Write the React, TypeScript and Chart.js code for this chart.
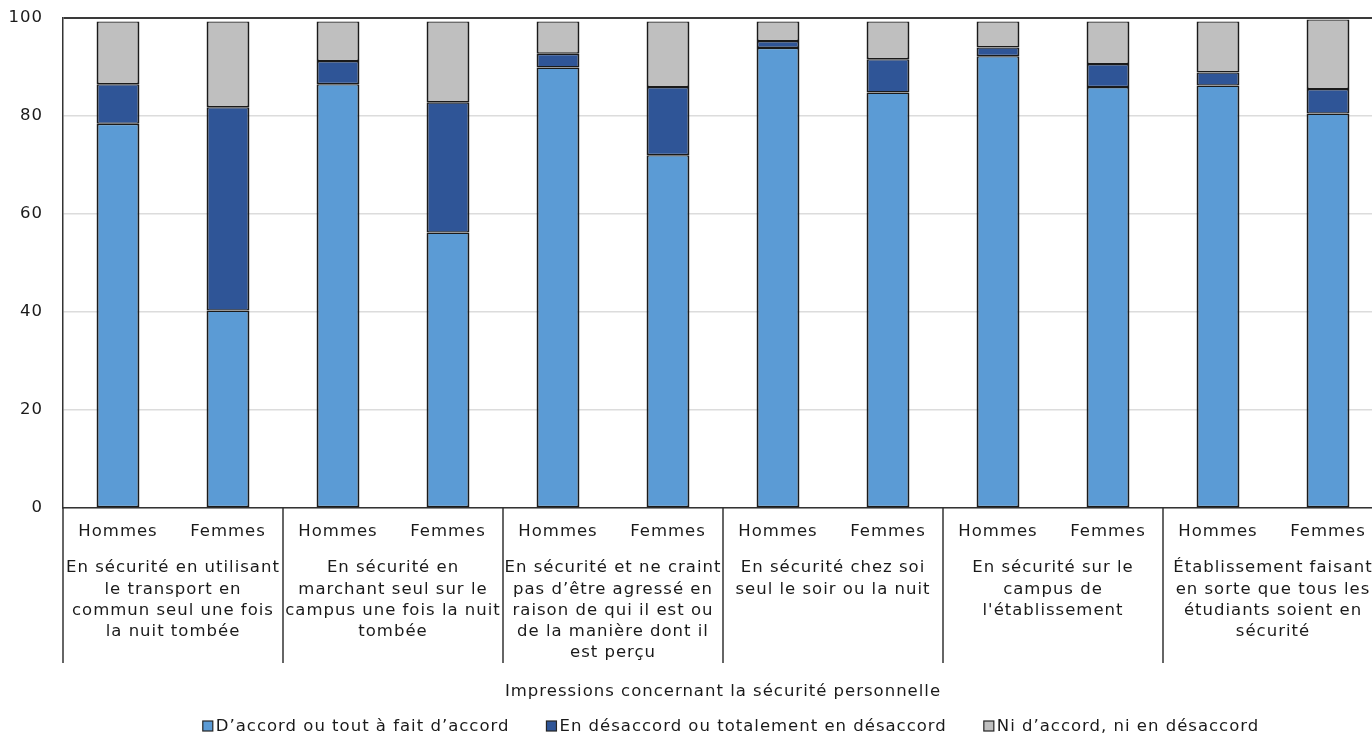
import React, { useEffect, useRef } from "react";
import { Chart, registerables } from "chart.js";

Chart.register(...registerables);

// Sub-categories along the bottom axis (two per group)
const genders = [
  "Hommes", "Femmes",
  "Hommes", "Femmes",
  "Hommes", "Femmes",
  "Hommes", "Femmes",
  "Hommes", "Femmes",
  "Hommes", "Femmes",
];

// Group captions, one line per entry
const groupLabels: string[][] = [
  ["En sécurité en utilisant", "le transport en", "commun seul une fois", "la nuit tombée"],
  ["En sécurité en", "marchant seul sur le", "campus une fois la nuit", "tombée"],
  ["En sécurité et ne craint", "pas d’être agressé en", "raison de qui il est ou", "de la manière dont il", "est perçu"],
  ["En sécurité chez soi", "seul le soir ou la nuit"],
  ["En sécurité sur le", "campus de", "l'établissement"],
  ["Établissement faisant", "en sorte que tous les", "étudiants soient en", "sécurité"],
];

// Percentages per response, in the order of the genders array
const agree = [78.4, 40.3, 86.5, 56.2, 89.9, 72.0, 93.9, 84.8, 92.2, 85.9, 86.2, 80.5];
const disagree = [8.1, 41.5, 4.7, 26.6, 2.8, 13.9, 1.4, 6.8, 1.8, 4.7, 2.7, 5.0];
const neutral = [12.8, 17.5, 8.1, 16.5, 6.6, 13.4, 4.0, 7.7, 5.3, 8.7, 10.4, 14.2];

const seriesNames = [
  "D’accord ou tout à fait d’accord",
  "En désaccord ou totalement en désaccord",
  "Ni d’accord, ni en désaccord",
];
const seriesColors = ["#5B9BD5", "#2F5597", "#BFBFBF"];

const yTicks = [0, 20, 40, 60, 80, 100];
const axisTitle = "Impressions concernant la sécurité personnelle";

const FONT = "'DejaVu Sans', Verdana, sans-serif";
const FONT_SIZE = 16.5;
const TEXT = "#1a1a1a";
const AXIS = "#333333";
const SPACING = "1px";

// Slightly loosened tracking for every piece of text on the canvas
const spacingPlugin = {
  id: "trackedText",
  beforeLayout(chart: any) {
    chart.ctx.letterSpacing = SPACING;
  },
  beforeDraw(chart: any) {
    chart.ctx.letterSpacing = SPACING;
  },
};

// Group separators, group captions and the legend row
const groupPlugin = {
  id: "groupAxis",
  afterDraw(chart: any) {
    const { ctx, chartArea } = chart;
    const x = chart.scales.x;
    const step = x.getPixelForValue(1) - x.getPixelForValue(0);
    const base = chartArea.bottom;

    ctx.save();
    ctx.letterSpacing = SPACING;
    ctx.strokeStyle = AXIS;
    ctx.lineWidth = 1.5;
    ctx.font = `${FONT_SIZE}px ${FONT}`;
    ctx.fillStyle = TEXT;
    ctx.textAlign = "center";
    ctx.textBaseline = "middle";

    groupLabels.forEach((lines, g) => {
      const left = x.getPixelForValue(2 * g) - step / 2;
      ctx.beginPath();
      ctx.moveTo(left, base);
      ctx.lineTo(left, base + 155);
      ctx.stroke();
      const cx = left + step;
      lines.forEach((ln, i) => ctx.fillText(ln, cx, base + 60 + i * 21.3));
    });
    const right = x.getPixelForValue(genders.length - 1) + step / 2;
    ctx.beginPath();
    ctx.moveTo(right, base);
    ctx.lineTo(right, base + 155);
    ctx.stroke();

    // legend
    const box = 10;
    const boxGap = 3;
    const itemGap = 37;
    const widths = chart.data.datasets.map((d: any) => ctx.measureText(d.label).width);
    const total =
      widths.reduce((a: number, w: number) => a + box + boxGap + w, 0) + itemGap * (widths.length - 1);
    let lx = (chartArea.left + chartArea.right) / 2 + 8 - total / 2;
    const ly = 726;
    ctx.textAlign = "left";
    chart.data.datasets.forEach((d: any, i: number) => {
      ctx.fillStyle = d.backgroundColor;
      ctx.fillRect(lx, ly - box / 2, box, box);
      ctx.lineWidth = 1.2;
      ctx.strokeStyle = "#262626";
      ctx.strokeRect(lx, ly - box / 2, box, box);
      ctx.fillStyle = TEXT;
      ctx.fillText(d.label, lx + box + boxGap, ly + 1);
      lx += box + boxGap + widths[i] + itemGap;
    });
    ctx.restore();
  },
};

export default function App() {
  const ref = useRef<HTMLCanvasElement>(null);

  useEffect(() => {
    if (!ref.current) return;
    Chart.defaults.font.family = FONT;
    Chart.defaults.font.size = FONT_SIZE;
    Chart.defaults.color = TEXT;

    const series = [agree, disagree, neutral];
    const chart = new Chart(ref.current, {
      type: "bar",
      data: {
        labels: genders,
        datasets: series.map((values, i) => ({
          label: seriesNames[i],
          data: values,
          backgroundColor: seriesColors[i],
          borderColor: "#1a1a1a",
          borderWidth: { top: 1.4, bottom: 1.4, left: 2, right: 2 },
          borderSkipped: false,
          inflateAmount: 0,
          barPercentage: 0.39,
          categoryPercentage: 1,
          stack: "all",
        })),
      },
      options: {
        responsive: false,
        animation: false,
        devicePixelRatio: 1,
        events: [],
        layout: { padding: { top: 18, right: 0, bottom: 0, left: 0 } },
        plugins: {
          legend: { display: false },
          tooltip: { enabled: false },
          title: { display: false },
        },
        scales: {
          x: {
            stacked: true,
            grid: { display: false, drawTicks: false },
            border: { display: true, color: AXIS, width: 1.5 },
            ticks: { padding: 14, color: TEXT, font: { size: FONT_SIZE }, maxRotation: 0, autoSkip: false },
            title: {
              display: true,
              text: axisTitle,
              color: TEXT,
              font: { size: FONT_SIZE },
              padding: { top: 0, bottom: 33 },
            },
            afterFit: (scale: any) => {
              scale.height = 227;
            },
          },
          y: {
            stacked: true,
            min: 0,
            max: 100,
            afterBuildTicks: (scale: any) => {
              scale.ticks = yTicks.map((v) => ({ value: v }));
            },
            grid: {
              drawTicks: true,
              tickLength: 20,
              tickColor: "rgba(0,0,0,0)",
              color: (c: any) => (c.tick && c.tick.value === 100 ? "#3a3a3a" : "#dcdcdc"),
              lineWidth: (c: any) => (c.tick && c.tick.value === 100 ? 2 : 1.5),
            },
            border: { display: true, color: AXIS, width: 1.5 },
            ticks: { padding: 0, color: TEXT, font: { size: FONT_SIZE } },
            afterFit: (scale: any) => {
              scale.width = 63;
            },
          },
        },
      },
      plugins: [spacingPlugin, groupPlugin],
    });
    return () => chart.destroy();
  }, []);

  return (
    <div
      style={{
        position: "fixed",
        left: 0,
        top: 0,
        width: "100vw",
        height: "100vh",
        overflow: "hidden",
        background: "#ffffff",
      }}
    >
      <canvas ref={ref} width={1383} height={735} style={{ display: "block" }} />
    </div>
  );
}
